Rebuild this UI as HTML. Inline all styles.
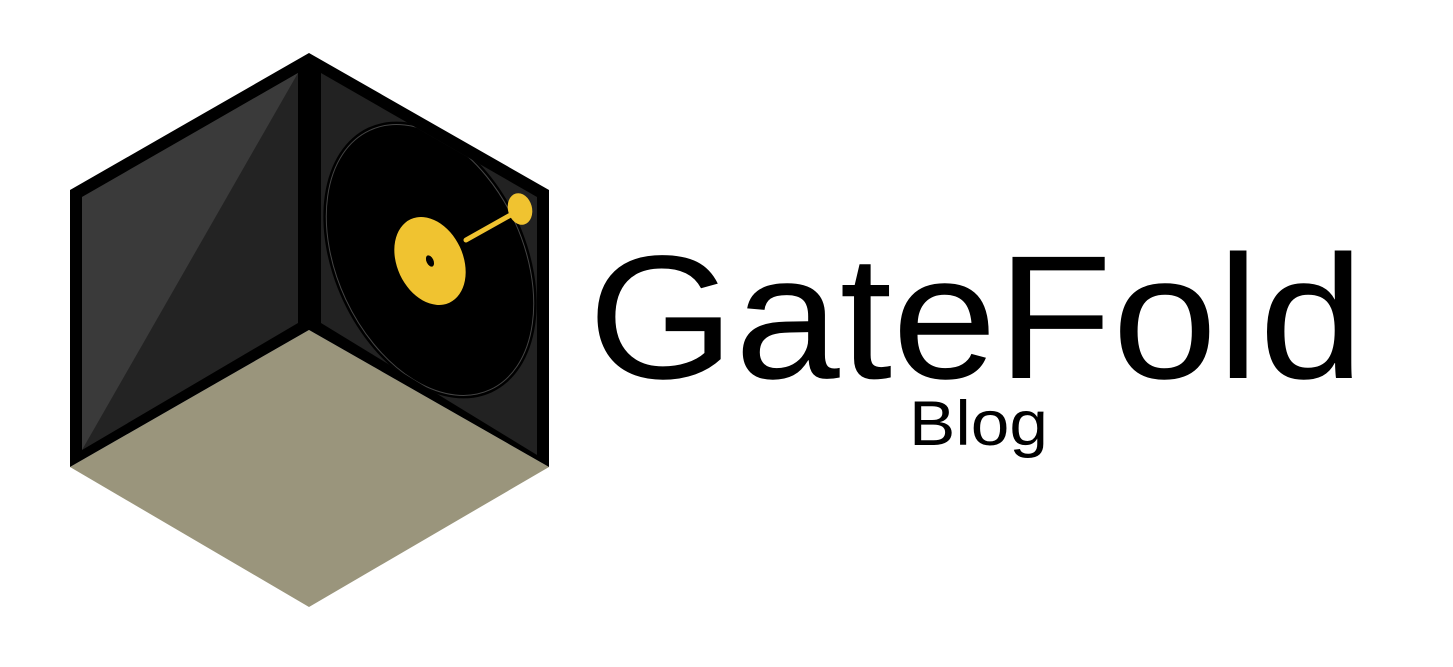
<!DOCTYPE html>
<html><head><meta charset="utf-8"><style>
html,body{margin:0;padding:0;background:#fff;width:1453px;height:667px;overflow:hidden}
svg{display:block}
</style></head><body>
<svg width="1453" height="667" viewBox="0 0 1453 667">
  <defs>
    <clipPath id="rf"><polygon points="321,73 537,197 537,455 321,323"/></clipPath>
  </defs>
  <g>
    <polygon points="70,467 309,330 549,467 309,607" fill="#9a957c"/>
    <polygon points="70,190 309,53 309,330 70,467" fill="#000"/>
    <polygon points="82,197 298,73 298,323 82,450" fill="#232323"/>
    <polygon points="82,197 298,73 82,450" fill="#3a3a3a"/>
    <polygon points="309,53 549,190 549,467 309,330" fill="#000"/>
    <polygon points="321,73 537,197 537,455 321,323" fill="#222"/>
    <g clip-path="url(#rf)">
      <ellipse cx="430" cy="260" rx="96" ry="146" transform="rotate(-25 430 260)" fill="#000"/>
      <ellipse cx="430" cy="260" rx="93" ry="143" transform="rotate(-25 430 260)" fill="none" stroke="#444" stroke-width="1"/>
    </g>
    <ellipse cx="430" cy="261" rx="33" ry="46" transform="rotate(-25 430 261)" fill="#f0c330"/>
    <ellipse cx="430" cy="261" rx="3.5" ry="6" transform="rotate(-25 430 261)" fill="#000"/>
    <line x1="466" y1="240" x2="516" y2="212" stroke="#f0c330" stroke-width="5" stroke-linecap="round"/>
    <ellipse cx="520" cy="209" rx="12" ry="16" transform="rotate(-15 520 209)" fill="#f0c330"/>
  </g>
  <text x="588" y="378" font-family="'Liberation Sans', sans-serif" font-size="176" textLength="776" lengthAdjust="spacingAndGlyphs" fill="#000">GateFold</text>
  <text x="909" y="445" font-family="'Liberation Sans', sans-serif" font-size="63" textLength="139" lengthAdjust="spacingAndGlyphs" fill="#000">Blog</text>
</svg>
</body></html>
